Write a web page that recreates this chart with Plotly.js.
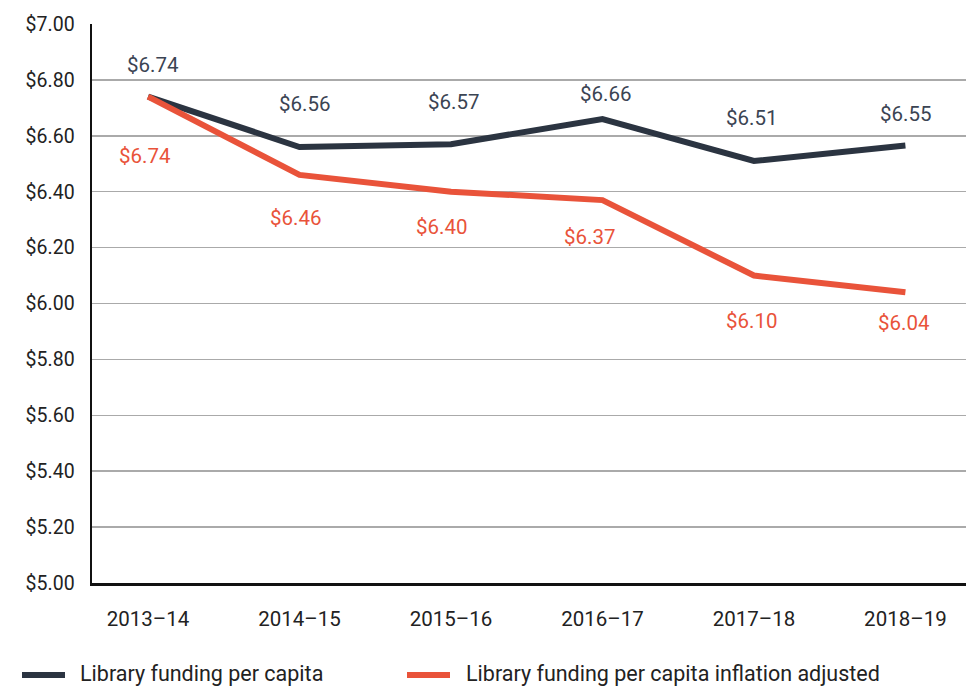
<!DOCTYPE html>
<html>
<head>
<meta charset="utf-8">
<script src="https://cdn.plot.ly/plotly-3.0.1.min.js"></script>
<style>html,body{margin:0;padding:0;background:#fff;}#chart{width:966px;height:687px;}</style>
</head>
<body>
<div id="chart"></div>
<script>
// ---- data ----
const years = ["2013–14", "2014–15", "2015–16", "2016–17", "2017–18", "2018–19"];
const fundingPerCapita = [6.74, 6.56, 6.57, 6.66, 6.51, 6.565];
const fundingPerCapitaLabels = ["$6.74", "$6.56", "$6.57", "$6.66", "$6.51", "$6.55"];
const fundingInflationAdjusted = [6.74, 6.46, 6.40, 6.37, 6.10, 6.04];
const fundingInflationAdjustedLabels = ["$6.74", "$6.46", "$6.40", "$6.37", "$6.10", "$6.04"];
const seriesNames = ["Library funding per capita", "Library funding per capita inflation adjusted"];
const yTickVals = [5.0, 5.2, 5.4, 5.6, 5.8, 6.0, 6.2, 6.4, 6.6, 6.8, 7.0];
const yTickText = ["$5.00", "$5.20", "$5.40", "$5.60", "$5.80", "$6.00", "$6.20", "$6.40", "$6.60", "$6.80", "$7.00"];

// ---- styles ----
const DARK = "#2b3441";
const ORANGE = "#e9533a";
const DARK_TEXT = "#3b4453";
const FONT = "Roboto, 'Liberation Sans', Arial, sans-serif";
const darkShift = [[5, 32], [5, 43], [3, 42], [4, 25], [-2, 43], [1, 32]];
const orangeShift = [[-3, -59], [-4, -43], [-9, -35], [-12, -37], [-2, -45], [-1, -31]];

const traces = [
  {x: years, y: fundingPerCapita, name: seriesNames[0], type: "scatter", mode: "lines",
   line: {color: DARK, width: 6}, hoverinfo: "skip"},
  {x: years, y: fundingInflationAdjusted, name: seriesNames[1], type: "scatter", mode: "lines",
   line: {color: ORANGE, width: 6}, hoverinfo: "skip"}
];

const annotations = [];
years.forEach((yr, i) => {
  annotations.push({x: yr, y: fundingPerCapita[i], xref: "x", yref: "y", text: fundingPerCapitaLabels[i],
    showarrow: false, xshift: darkShift[i][0], yshift: darkShift[i][1],
    font: {family: FONT, size: 20.5, color: DARK_TEXT}});
  annotations.push({x: yr, y: fundingInflationAdjusted[i], xref: "x", yref: "y", text: fundingInflationAdjustedLabels[i],
    showarrow: false, xshift: orangeShift[i][0], yshift: orangeShift[i][1],
    font: {family: FONT, size: 20.5, color: ORANGE}});
});

// manual legend
const W = 874, H = 559, L = 92, B = 583;
const px = v => (v - L) / W;
const py = v => (B - v) / H;
annotations.push({xref: "paper", yref: "paper", x: px(78), y: py(673), xanchor: "left", yanchor: "middle",
  text: seriesNames[0], showarrow: false, font: {family: FONT, size: 21.5, color: "#222"}});
annotations.push({xref: "paper", yref: "paper", x: px(464), y: py(673), xanchor: "left", yanchor: "middle",
  text: seriesNames[1], showarrow: false, font: {family: FONT, size: 21.5, color: "#222"}});
const shapes = [
  {type: "line", xref: "paper", yref: "paper", x0: px(22), x1: px(65), y0: py(675), y1: py(675),
   line: {color: DARK, width: 6}},
  {type: "line", xref: "paper", yref: "paper", x0: px(407), x1: px(450), y0: py(675), y1: py(675),
   line: {color: ORANGE, width: 6}}
];

const layout = {
  width: 966, height: 687,
  margin: {l: 92, r: 0, t: 24, b: 104},
  paper_bgcolor: "#fff", plot_bgcolor: "#fff",
  showlegend: false,
  font: {family: FONT, size: 20, color: "#222"},
  xaxis: {type: "category", range: [-0.37, 5.4], showgrid: false, zeroline: false,
    showline: true, linecolor: "#111", linewidth: 2.5, ticks: "", ticklabelstandoff: 16,
    tickfont: {family: FONT, size: 20.5, color: "#222"}, fixedrange: true},
  yaxis: {range: [5.0, 7.0], tickvals: yTickVals, ticktext: yTickText, showgrid: true,
    gridcolor: "#aaaaaa", gridwidth: 1.5, zeroline: false, showline: true, linecolor: "#111",
    linewidth: 2.5, ticks: "", ticklabelstandoff: 11,
    tickfont: {family: FONT, size: 19.5, color: "#222"}, fixedrange: true},
  annotations: annotations,
  shapes: shapes
};

Plotly.newPlot("chart", traces, layout, {displayModeBar: false, staticPlot: true});
</script>
</body>
</html>
